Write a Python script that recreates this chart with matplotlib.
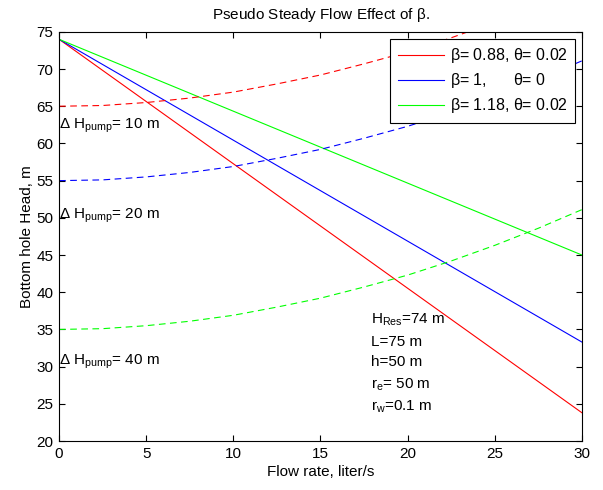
import numpy as np
import matplotlib
matplotlib.use("Agg")
import matplotlib.pyplot as plt

plt.rcParams['font.family'] = ['Liberation Sans', 'DejaVu Sans']
plt.rcParams['mathtext.fontset'] = 'custom'
plt.rcParams['mathtext.rm'] = 'Liberation Sans'
plt.rcParams['mathtext.it'] = 'Liberation Sans'

# flow rate, liter/s
q_line = [0, 30]
# bottom hole head for each beta (solid)
h_b088 = [74, 23.8]
h_b1 = [74, 33.3]
h_b118 = [74, 45.0]

# pump curves (dashed)
q_pump = [0, 2.5, 5, 7.5, 10, 12.5, 15, 17.5, 20, 22.5, 25, 27.5, 30]
pump_10 = [65, 65.1, 65.5, 66.1, 66.9, 68.0, 69.2, 70.7, 72.3, 74.2, 76.3, 78.6, 81.1]
pump_20 = [55, 55.1, 55.5, 56.1, 56.9, 58.0, 59.2, 60.7, 62.3, 64.2, 66.3, 68.6, 71.1]
pump_40 = [35, 35.1, 35.5, 36.1, 36.9, 38.0, 39.2, 40.7, 42.3, 44.2, 46.3, 48.6, 51.1]

labels = [r'$\beta$= 0.88, $\theta$= 0.02',
          r'$\beta$= 1,      $\theta$= 0',
          r'$\beta$= 1.18, $\theta$= 0.02']
colors = ['#ff0000', '#0000ff', '#00ff00']

fs = 11

fig = plt.figure(figsize=(6.03, 4.9), dpi=100)
ax = fig.add_axes([0.098, 0.1, 0.867, 0.835])

for h, c, lab in zip([h_b088, h_b1, h_b118], colors, labels):
    ax.plot(q_line, h, color=c, lw=0.8, label=lab)
for p, c in zip([pump_10, pump_20, pump_40], colors):
    ax.plot(q_pump, p, color=c, lw=0.8, dashes=(6, 4))

ax.set_xlim(0, 30)
ax.set_ylim(20, 75)
ax.set_xticks(np.arange(0, 31, 5))
ax.set_yticks(np.arange(20, 76, 5))
ax.tick_params(direction='in', length=4, width=0.8, top=True, right=True,
               labelsize=fs, pad=4)
for s in ax.spines.values():
    s.set_linewidth(0.8)

ax.set_title(r'Pseudo Steady Flow Effect of $\beta$.', fontsize=fs, pad=9)
ax.set_xlabel('Flow rate, liter/s', fontsize=fs, labelpad=3)
ax.set_ylabel('Bottom hole Head, m', fontsize=fs, labelpad=2)

ax.text(0, 62.3, r'$\Delta$ H$_{\rm pump}$= 10 m', fontsize=fs, va='center')
ax.text(0, 50.2, r'$\Delta$ H$_{\rm pump}$= 20 m', fontsize=fs, va='center')
ax.text(0, 30.7, r'$\Delta$ H$_{\rm pump}$= 40 m', fontsize=fs, va='center')

params = [r'H$_{\rm Res}$=74 m', 'L=75 m', 'h=50 m',
          r'r$_{\rm e}$= 50 m', r'r$_{\rm w}$=0.1 m']
params_y = [36.3, 33.3, 30.6, 27.5, 24.6]
for t, y in zip(params, params_y):
    ax.text(17.9, y, t, fontsize=fs, va='center')

leg = ax.legend(loc='upper right', fontsize=11.5, handlelength=2.9,
                handletextpad=0.35, labelspacing=0.38, borderaxespad=0.45,
                fancybox=False, framealpha=1, edgecolor='black',
                borderpad=0.45)
leg.get_frame().set_linewidth(0.8)

fig.savefig('out.png', dpi=100)
